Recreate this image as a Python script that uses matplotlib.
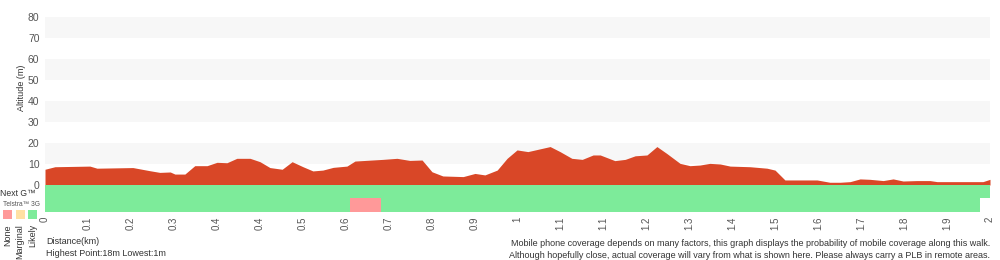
import numpy as np
import matplotlib.pyplot as plt

plt.rcParams['font.family'] = ['Liberation Sans', 'DejaVu Sans']

# elevation profile (km, m)
dist_km = [0, 0.021, 0.095, 0.110, 0.186, 0.222, 0.243, 0.265, 0.275, 0.296, 0.317,
           0.343, 0.364, 0.385, 0.406, 0.434, 0.455, 0.476, 0.502, 0.523, 0.546,
           0.567, 0.588, 0.610, 0.639, 0.656, 0.715, 0.745, 0.772, 0.798, 0.819,
           0.842, 0.885, 0.910, 0.931, 0.957, 0.978, 0.999, 1.022, 1.069, 1.090,
           1.115, 1.137, 1.160, 1.175, 1.206, 1.228, 1.249, 1.274, 1.295, 1.316,
           1.344, 1.365, 1.386, 1.407, 1.429, 1.450, 1.492, 1.528, 1.545, 1.566,
           1.634, 1.661, 1.683, 1.704, 1.725, 1.746, 1.774, 1.795, 1.816, 1.845,
           1.873, 1.888, 1.951, 1.985, 2.0]
alt_m = [7.5, 8.7, 9, 8, 8.3, 6.8, 6, 6.2, 5.2, 5.2, 9.2,
         9.2, 10.8, 10.6, 12.7, 12.7, 11.1, 8.3, 7.5, 11.1, 8.7,
         6.7, 7.1, 8.4, 9, 11.4, 12.2, 12.7, 11.7, 11.9, 6.3,
         4.3, 4.0, 5.5, 4.8, 7.1, 12.7, 16.7, 15.9, 18.3, 15.9,
         12.7, 12.2, 14.3, 14.3, 11.6, 12.2, 13.9, 14.3, 18.3, 15,
         10.3, 9.2, 9.5, 10.3, 10, 9, 8.7, 8, 7.1, 2.4,
         2.4, 1.3, 1.3, 1.6, 2.9, 2.7, 2.1, 2.9, 1.9, 2.1,
         2.1, 1.6, 1.6, 1.6, 2.7]

# coverage segments (start km, end km, level)
nextg_cov = [(0, 2.0, 'Likely')]
tel3g_cov = [(0, 0.645, 'Likely'), (0.645, 0.711, 'None'), (0.711, 1.979, 'Likely')]

x_ticklabels = ['0', '0.1', '0.2', '0.3', '0.4', '0.4', '0.5', '0.6', '0.7', '0.8', '0.9',
                '1', '1.1', '1.1', '1.2', '1.3', '1.4', '1.5', '1.6', '1.7', '1.8', '1.9', '2']
y_ticks = [0, 10, 20, 30, 40, 50, 60, 70, 80]

cov_colors = {'None': '#ff9999', 'Marginal': '#ffe0a3', 'Likely': '#7deb9a'}
txt = '#333333'
total_km = 2.0

fig = plt.figure(figsize=(10, 2.6), dpi=100)
L, W = 0.045, 0.945

# altitude chart
ax = fig.add_axes([L, 75 / 260, W, 168 / 260])
for lo in [10, 30, 50, 70]:
    ax.axhspan(lo, lo + 10, color='#f7f7f7', lw=0, zorder=0)
ax.fill_between(dist_km, 0, alt_m, color='#d94727', lw=0, zorder=2)
ax.set_xlim(0, total_km)
ax.set_ylim(0, 80)
ax.set_yticks(y_ticks)
ax.set_yticklabels([str(v) for v in y_ticks], fontsize=7.5, color='#555555')
ax.tick_params(axis='y', length=0, pad=4)
ax.set_xticks([])
for s in ax.spines.values():
    s.set_visible(False)
fig.text(0.022, 1 - 88 / 260, 'Altitude (m)', rotation=90, fontsize=6.5, color=txt,
         ha='center', va='center')

# coverage band
cax = fig.add_axes([L, 48 / 260, W, 27 / 260])
cax.set_xlim(0, total_km)
cax.set_ylim(0, 2)
for a, b, lev in nextg_cov:
    cax.broken_barh([(a, b - a)], (1, 1), color=cov_colors[lev], lw=0)
for a, b, lev in tel3g_cov:
    cax.broken_barh([(a, b - a)], (0, 1), color=cov_colors[lev], lw=0)
cax.set_yticks([])
tick_pos = np.linspace(0, total_km, len(x_ticklabels))
cax.set_xticks(tick_pos)
cax.set_xticklabels(x_ticklabels, rotation=90, fontsize=7, color='#555555')
cax.tick_params(axis='x', length=0, pad=3)
for s in cax.spines.values():
    s.set_visible(False)

# legend on the left
fig.text(0.0, 1 - 194 / 260, 'Next G\u2122', fontsize=6.2, color=txt, va='center', ha='left')
fig.text(0.003, 1 - 204 / 260, 'Telstra\u2122 3G', fontsize=4.8, color='#555555', va='center', ha='left')
for i, lev in enumerate(['None', 'Marginal', 'Likely']):
    x0 = 3 + i * 12.5
    fig.patches.append(plt.Rectangle((x0 / 1000, 1 - 219 / 260), 9 / 1000, 9 / 260,
                                     transform=fig.transFigure, color=cov_colors[lev], lw=0))
    fig.text((x0 + 4.5) / 1000, 1 - 224 / 260, lev, rotation=90, fontsize=6.5,
             color=txt, ha='center', va='top')

# bottom texts
fig.text(0.046, 1 - 242 / 260, 'Distance(km)', fontsize=6.5, color=txt, va='center')
fig.text(0.046, 1 - 253 / 260, 'Highest Point:18m Lowest:1m', fontsize=6.5, color=txt, va='center')
fig.text(0.99, 1 - 244 / 260,
         'Mobile phone coverage depends on many factors, this graph displays the probability of mobile coverage along this walk.',
         fontsize=6.5, color=txt, va='center', ha='right')
fig.text(0.99, 1 - 255 / 260,
         'Although hopefully close, actual coverage will vary from what is shown here. Please always carry a PLB in remote areas.',
         fontsize=6.5, color=txt, va='center', ha='right')

fig.savefig('out.png', dpi=100)
